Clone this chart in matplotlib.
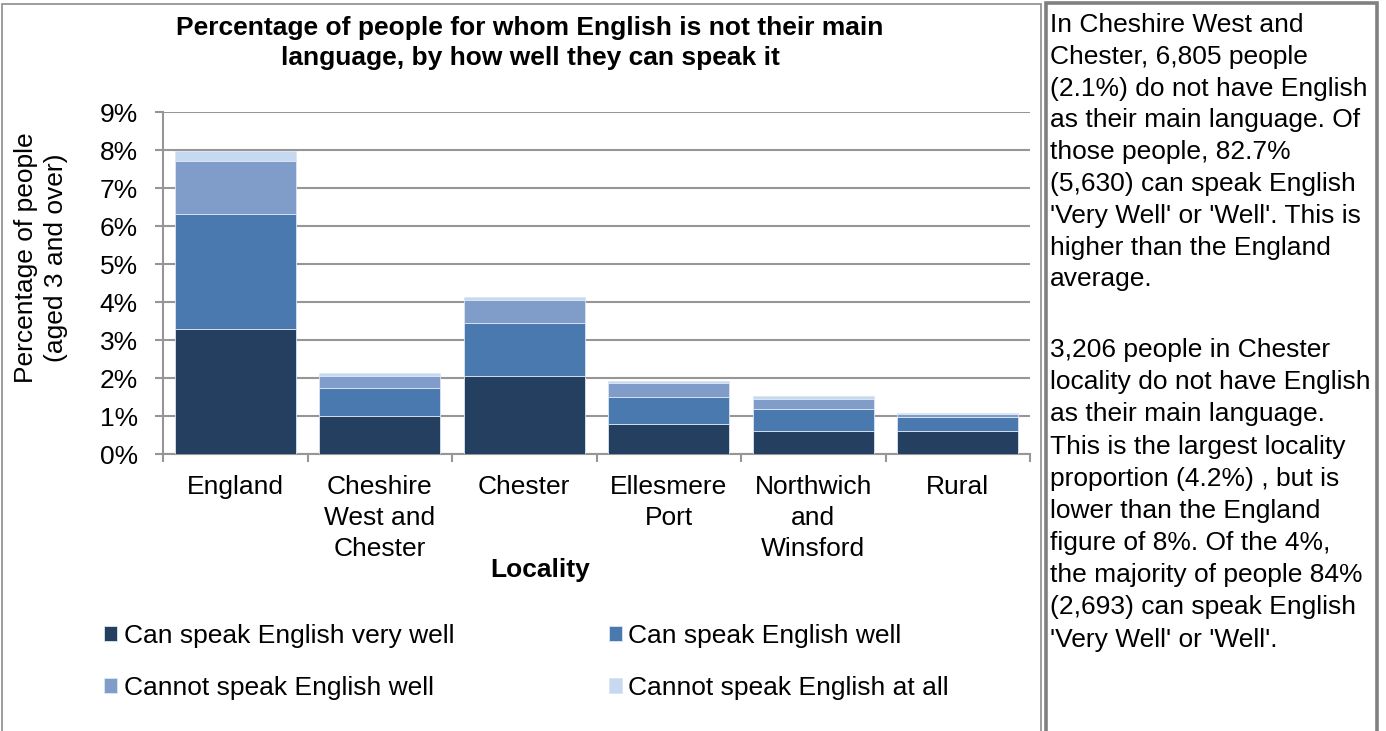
import matplotlib
matplotlib.use("Agg")
import matplotlib.pyplot as plt
from matplotlib.patches import Rectangle
import numpy as np

plt.rcParams['font.family'] = ['Liberation Sans', 'DejaVu Sans']

# ---- data ----
categories = ["England", "Cheshire\nWest and\nChester", "Chester",
              "Ellesmere\nPort", "Northwich\nand\nWinsford", "Rural"]
very_well = [3.28, 0.99, 2.04, 0.80, 0.61, 0.61]
well = [3.03, 0.76, 1.42, 0.71, 0.58, 0.36]
not_well = [1.39, 0.31, 0.60, 0.36, 0.26, 0.09]
not_at_all = [0.28, 0.06, 0.08, 0.05, 0.07, 0.03]
series_names = ["Can speak English very well", "Can speak English well",
                "Cannot speak English well", "Cannot speak English at all"]
colors = ["#253f60", "#4a79b0", "#7f9dc8", "#c6d9f0"]
yticks = list(range(0, 10))

title = "Percentage of people for whom English is not their main\nlanguage, by how well they can speak it"
ylabel = "Percentage of people\n(aged 3 and over)"
xlabel = "Locality"
para1 = ("In Cheshire West and\nChester, 6,805 people\n(2.1%) do not have English\n"
         "as their main language. Of\nthose people, 82.7%\n(5,630) can speak English\n"
         "'Very Well' or 'Well'. This is\nhigher than the England\naverage.")
para2 = ("3,206 people in Chester\nlocality do not have English\nas their main language.\n"
         "This is the largest locality\nproportion (4.2%) , but is\nlower than the England\n"
         "figure of 8%. Of the 4%,\nthe majority of people 84%\n(2,693) can speak English\n"
         "'Very Well' or 'Well'.")

W, H = 1386, 731
fig = plt.figure(figsize=(W / 100, H / 100), dpi=100)


def fx(px):
    return px / W


def fy(py):
    return 1 - py / H


GRAY = "#969696"

# chart border and text-box border
fig.patches.append(Rectangle((fx(2), fy(740)), fx(1041) - fx(2), fy(4) - fy(740),
                             transform=fig.transFigure, fill=False,
                             edgecolor="#8c8c8c", linewidth=1.2))
fig.patches.append(Rectangle((fx(1046), fy(740)), fx(1377) - fx(1046), fy(3) - fy(740),
                             transform=fig.transFigure, fill=False,
                             edgecolor="#808080", linewidth=2.6))

ax = fig.add_axes([fx(163), fy(454), fx(1030) - fx(163), fy(112) - fy(454)])
x = np.arange(len(categories))
bottom = np.zeros(len(categories))
containers = []
for vals, col, name in zip([very_well, well, not_well, not_at_all], colors, series_names):
    c = ax.bar(x, vals, width=0.84, bottom=bottom, color=col, edgecolor="#dce6f2",
               linewidth=0.6, label=name, zorder=3)
    containers.append(c)
    bottom = bottom + np.array(vals)

ax.set_xlim(-0.5, len(categories) - 0.5)
ax.set_ylim(0, 9)
ax.set_yticks(yticks)
ax.set_yticklabels([f"{t}%" for t in yticks])
ax.set_xticks(x)
ax.set_xticklabels(categories, linespacing=1.38)
ax.set_xticks(np.arange(-0.5, len(categories)), minor=True)
ax.tick_params(axis='x', which='major', length=0, pad=15, labelsize=19)
ax.tick_params(axis='x', which='minor', length=6, width=1.5, color=GRAY, direction='out')
ax.tick_params(axis='y', which='major', length=6, width=1.5, color=GRAY, pad=12, labelsize=19)
ax.yaxis.grid(True, color=GRAY, linewidth=1.5, zorder=0)
ax.set_axisbelow(True)
for s in ['top', 'right']:
    ax.spines[s].set_visible(False)
for s in ['left', 'bottom']:
    ax.spines[s].set_color(GRAY)
    ax.spines[s].set_linewidth(1.5)

fig.text(fx(530), fy(43), title, ha='center', va='center', fontsize=19,
         fontweight='bold', linespacing=1.35)
fig.text(fx(41), fy(258), ylabel, ha='center', va='center', rotation=90,
         fontsize=19, linespacing=1.35)
fig.text(fx(540), fy(570), xlabel, ha='center', va='center', fontsize=19,
         fontweight='bold')

handles = [containers[0], containers[2], containers[1], containers[3]]
labels = [series_names[0], series_names[2], series_names[1], series_names[3]]
fig.legend(handles, labels, ncol=2, loc='upper left',
           bbox_to_anchor=(fx(104), fy(624)), frameon=False, fontsize=19,
           handlelength=0.5, handleheight=0.5, handletextpad=0.25,
           columnspacing=5.85, labelspacing=1.05, borderpad=0, borderaxespad=0)

fig.text(fx(1050), fy(13), para1, ha='left', va='top', fontsize=19, linespacing=1.41)
fig.text(fx(1050), fy(338), para2, ha='left', va='top', fontsize=19, linespacing=1.43)

fig.savefig("out.png", dpi=100)
